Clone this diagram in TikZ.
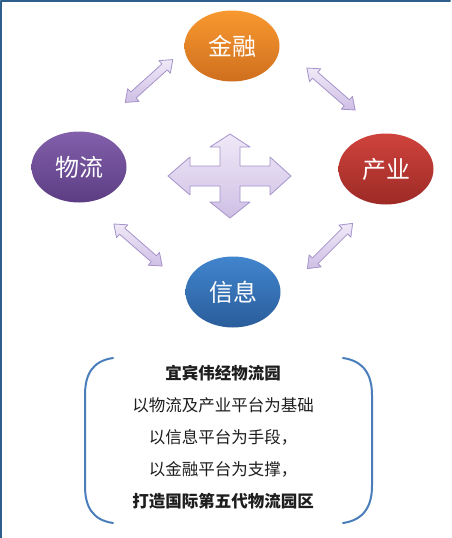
\documentclass[tikz,border=0pt]{standalone}
\usepackage{fontspec}
\newfontfamily\cjk{Noto Sans CJK SC}
\usetikzlibrary{shapes.geometric}
\definecolor{frameblue}{HTML}{2E5E8A}
\definecolor{bracketblue}{HTML}{4A7EBB}
\definecolor{lilac}{HTML}{EFE9F7}
\definecolor{lilacdark}{HTML}{CFBFE5}
\definecolor{lilacline}{HTML}{A593CB}
\definecolor{orangetop}{HTML}{F8982F}
\definecolor{orangebot}{HTML}{CF6F1E}
\definecolor{purpletop}{HTML}{8260AB}
\definecolor{purplebot}{HTML}{5C3D83}
\definecolor{redtop}{HTML}{CF433C}
\definecolor{redbot}{HTML}{9D2A26}
\definecolor{bluetop}{HTML}{4185CD}
\definecolor{bluebot}{HTML}{2A5D9B}
\definecolor{ink}{HTML}{1E1E1E}
\tikzset{
  blob/.style={ellipse, minimum width=95pt, minimum height=71pt, inner sep=0pt, text=white, font=\cjk\fontsize{24}{24}\selectfont},
  lilacarrow/.style={draw=lilacline, line width=0.8pt, top color=lilac, bottom color=lilacdark},
  twoway/.pic={
    \path[lilacarrow] (-32,0) -- (-21,8.5) -- (-21,4) -- (21,4) -- (21,8.5) -- (32,0)
      -- (21,-8.5) -- (21,-4) -- (-21,-4) -- (-21,-8.5) -- cycle;
  }
}
\begin{document}
\begin{tikzpicture}[x=1pt, y=-1pt, line join=round, line cap=round]
\useasboundingbox (0,0) rectangle (452,538);
\fill[white] (0,0) rectangle (452,538);
\draw[frameblue, line width=2pt] (1,538) -- (1,1) -- (450,1);
% the four platforms
\node[blob, top color=orangetop, bottom color=orangebot] (jinrong) at (232,46) {金融};
\node[blob, top color=purpletop, bottom color=purplebot] (wuliu) at (79,167) {物流};
\node[blob, top color=redtop, bottom color=redbot] (chanye) at (386,169) {产业};
\node[blob, top color=bluetop, bottom color=bluebot] (xinxi) at (233,292) {信息};
% links between them
\pic[rotate=42] at (149,81) {twoway};
\pic[rotate=-41] at (331,89) {twoway};
\pic[rotate=-41] at (138,245) {twoway};
\pic[rotate=45] at (330,246) {twoway};
% cross in the middle
\coordinate (hub) at (230,176);
\path[lilacarrow, shift={(hub)}] (-62,0) -- (-40,-19) -- (-40,-10) -- (-10,-10) -- (-10,-29)
  -- (-20,-29) -- (0,-42) -- (20,-29) -- (10,-29) -- (10,-10) -- (40,-10) -- (40,-19)
  -- (61,0) -- (40,19) -- (40,10) -- (10,10) -- (10,26) -- (20,26) -- (0,42)
  -- (-20,26) -- (-10,26) -- (-10,10) -- (-40,10) -- (-40,19) -- cycle;
% brackets and motto
\draw[bracketblue, line width=2pt] (113,358) .. controls (92,361) and (85,375) .. (85,395)
  -- (85,486) .. controls (85,506) and (92,520) .. (113,523);
\draw[bracketblue, line width=2pt] (343,358) .. controls (364,361) and (372,375) .. (372,395)
  -- (372,486) .. controls (372,506) and (364,520) .. (343,523);
\node[align=center, text=ink, font=\cjk\fontsize{16.5}{32}\selectfont] (motto) at (223,437)
  {{\bfseries 宜宾伟经物流园}\\以物流及产业平台为基础\\以信息平台为手段，\\以金融平台为支撑，\\{\bfseries 打造国际第五代物流园区}};
\end{tikzpicture}
\end{document}
